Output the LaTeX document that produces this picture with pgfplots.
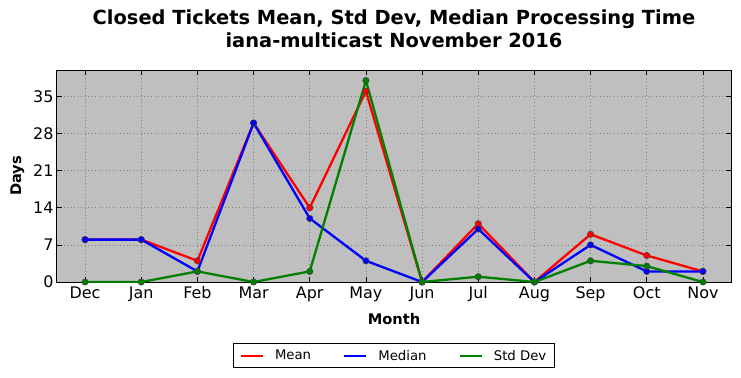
\documentclass[border=0pt]{standalone}
\usepackage{fontspec}
\setmainfont{DejaVu Sans}
\usepackage{pgfplots}
\pgfplotsset{compat=1.18}
\definecolor{bg}{HTML}{BFBFBF}
\definecolor{mgreen}{HTML}{008000}
\definecolor{mred}{HTML}{FF0000}
\definecolor{mblue}{HTML}{0000FF}
\begin{document}
\begin{tikzpicture}
\begin{axis}[
  scale only axis, width=674bp, height=212bp,
  xmin=-0.5, xmax=11.5, ymin=0, ymax=40,
  axis background/.style={fill=bg},
  axis line style={line width=1bp},
  xtick={0,...,11},
  xticklabels={Dec,Jan,Feb,Mar,Apr,May,Jun,Jul,Aug,Sep,Oct,Nov},
  ytick={0,7,14,21,28,35},
  grid=major, grid style={dash pattern=on 1bp off 2.5bp, black!50, line width=0.7bp},
  tick align=inside, major tick length=5bp,
  tick style={black, line width=0.7bp},
  tick label style={font=\fontsize{16}{18}\selectfont},
  /pgf/number format/assume math mode=true,
  xticklabel style={yshift=-1bp},
  xlabel={Month}, ylabel={Days},
  label style={font=\fontsize{14.7}{16}\selectfont\bfseries},
  xlabel style={yshift=-5bp},
  ylabel style={yshift=2bp},
  title={Closed Tickets Mean, Std Dev, Median Processing Time\\iana-multicast November 2016},
  title style={font=\fontsize{19.5}{22.5}\selectfont\bfseries, align=center, yshift=13bp},
  legend style={at={(0.5,-0.29)}, anchor=north, legend columns=3,
    font=\fontsize{13.3}{15}\selectfont, draw=black, line width=1bp,
    inner xsep=6bp, inner ysep=4bp,
    /tikz/every odd column/.append style={column sep=9bp},
    /tikz/every even column/.append style={column sep=30bp}},
  legend image code/.code={\draw[#1, mark=none, line width=2.3bp] (0bp,0bp) -- (22bp,0bp);},
  every axis plot/.append style={line width=2.3bp, mark=*, mark size=3.2bp},
]
\addplot[mred, mark options={fill=mred, draw=black!75, line width=0.5bp}] coordinates {
(0,8) (1,8) (2,4) (3,30) (4,14) (5,36) (6,0) (7,11) (8,0) (9,9) (10,5) (11,2)};
\addlegendentry{Mean}
\addplot[mblue, mark options={fill=mblue, draw=black!75, line width=0.5bp}] coordinates {
(0,8) (1,8) (2,2) (3,30) (4,12) (5,4) (6,0) (7,10) (8,0) (9,7) (10,2) (11,2)};
\addlegendentry{Median}
\addplot[mgreen, mark options={fill=mgreen, draw=black!75, line width=0.5bp}] coordinates {
(0,0) (1,0) (2,2) (3,0) (4,2) (5,38) (6,0) (7,1) (8,0) (9,4) (10,3) (11,0)};
\addlegendentry{Std Dev}
\coordinate (bl) at (rel axis cs:0,0);
\coordinate (tr) at (rel axis cs:1,1);
\end{axis}
\pgfresetboundingbox
\path ([shift={(-57bp,-96bp)}]bl) rectangle ([shift={(10bp,70bp)}]tr);
\end{tikzpicture}
\end{document}
